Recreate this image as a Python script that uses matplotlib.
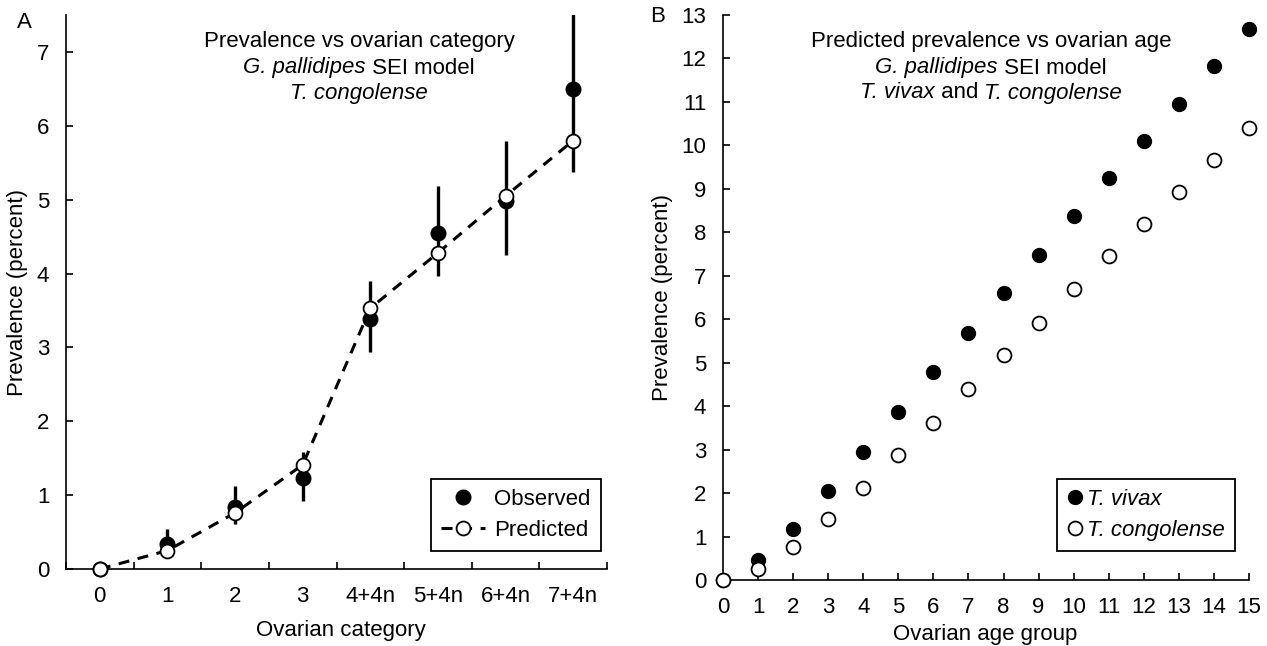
import matplotlib
matplotlib.use("Agg")
import matplotlib.pyplot as plt
from matplotlib.lines import Line2D
import numpy as np

plt.rcParams['font.family'] = ['Liberation Sans', 'DejaVu Sans']

## Panel A data
categories = ['0', '1', '2', '3', '4+4n', '5+4n', '6+4n', '7+4n']
observed = [0.0, 0.34, 0.84, 1.23, 3.39, 4.55, 4.98, 6.50]
obs_low = [0.0, 0.18, 0.61, 0.92, 2.94, 3.97, 4.25, 5.38]
obs_high = [0.0, 0.54, 1.12, 1.58, 3.90, 5.19, 5.80, 7.60]
predicted = [0.0, 0.25, 0.76, 1.41, 3.53, 4.28, 5.05, 5.80]

## Panel B data
age_group = list(range(16))
vivax = [0.0, 0.46, 1.17, 2.05, 2.94, 3.86, 4.78, 5.68, 6.60, 7.47, 8.37, 9.24, 10.10, 10.96, 11.82, 12.67]
congolense = [0.0, 0.25, 0.76, 1.40, 2.11, 2.87, 3.61, 4.39, 5.17, 5.91, 6.69, 7.45, 8.18, 8.92, 9.66, 10.40]

FS = 16
W, H = 1267, 646
fig = plt.figure(figsize=(W / 100, H / 100), dpi=100)
renderer = fig.canvas.get_renderer()

def ax_rect(x0, x1, ytop, ybot):
    return [x0 / W, 1 - ybot / H, (x1 - x0) / W, (ybot - ytop) / H]

def rich_line(xc, yc, pieces):
    # pieces: list of (text, style); drawn side by side, centred on xc (pixels)
    objs = [fig.text(0, 1 - yc / H, t, style=s, fontsize=FS, va='center', ha='left') for t, s in pieces]
    widths = [o.get_window_extent(renderer).width for o in objs]
    x0 = xc - sum(widths) / 2
    for o, w in zip(objs, widths):
        o.set_x(x0 / W)
        x0 += w

axA = fig.add_axes(ax_rect(66, 607, 15, 569))
axB = fig.add_axes(ax_rect(723, 1249, 15, 580))

for ax in (axA, axB):
    ax.spines['top'].set_visible(False)
    ax.spines['right'].set_visible(False)
    for s in ('left', 'bottom'):
        ax.spines[s].set_linewidth(1.2)
    ax.tick_params(which='both', direction='in', length=5, width=1.2, labelsize=FS)
    ax.tick_params(axis='y', pad=12)
    ax.tick_params(axis='x', pad=12)

# ---- Panel A
x = np.arange(len(categories))
yerr = [np.array(observed) - np.array(obs_low), np.array(obs_high) - np.array(observed)]
dash = (3.6, 2.8)
axA.errorbar(x, observed, yerr=yerr, fmt='none', ecolor='black', elinewidth=2.4, capsize=0)
axA.plot(x, predicted, color='black', lw=2.2, dashes=dash, zorder=3)
axA.plot(x, observed, 'o', color='black', ms=10.5, zorder=4, clip_on=False)
axA.plot(x, predicted, 'o', mfc='white', mec='black', mew=1.3, ms=10, zorder=5, clip_on=False)

axA.set_xlim(-0.5, 7.5)
axA.set_ylim(0, 7.5)
axA.set_xticks(x)
axA.set_xticklabels(categories)
axA.tick_params(axis='x', which='major', length=0)
axA.set_xticks(np.arange(-0.5, 8, 1), minor=True)
axA.set_yticks(range(8))
axA.set_xlabel('Ovarian category', fontsize=FS)
axA.set_ylabel('Prevalence (percent)', fontsize=FS)
axA.xaxis.set_label_coords(0.509, -0.092)
axA.yaxis.set_label_coords(-0.07, 0.5)

hA = [Line2D([], [], marker='o', ls='none', color='black', ms=10.5),
      Line2D([], [], marker='o', color='black', lw=2.2, dashes=dash, mfc='white', mec='black', mew=1.3, ms=10)]
legA = axA.legend(hA, ['Observed', 'Predicted'], loc='lower right', bbox_to_anchor=(0.988, 0.0325),
                  borderaxespad=0, fontsize=FS, fancybox=False, edgecolor='black', framealpha=1,
                  handlelength=2.0, handletextpad=0.4, labelspacing=0.45, borderpad=0.45)
legA.get_frame().set_linewidth(1.3)

# ---- Panel B
axB.plot(age_group, vivax, 'o', color='black', ms=10, clip_on=False, zorder=3)
axB.plot(age_group, congolense, 'o', mfc='white', mec='black', mew=1.3, ms=10, clip_on=False, zorder=4)
axB.set_xlim(0, 15)
axB.set_ylim(0, 13)
axB.set_xticks(age_group)
axB.set_yticks(range(14))
axB.set_xlabel('Ovarian age group', fontsize=FS)
axB.set_ylabel('Prevalence (percent)', fontsize=FS)
axB.xaxis.set_label_coords(0.498, -0.077)
axB.yaxis.set_label_coords(-0.095, 0.5)

hB = [Line2D([], [], marker='o', ls='none', color='black', ms=10),
      Line2D([], [], marker='o', ls='none', mfc='white', mec='black', mew=1.3, ms=10)]
legB = axB.legend(hB, ['T. vivax', 'T. congolense'], loc='lower right', bbox_to_anchor=(0.973, 0.051),
                  borderaxespad=0, prop={'size': FS, 'style': 'italic'}, fancybox=False,
                  edgecolor='black', framealpha=1, handlelength=0.7, handletextpad=0.2,
                  labelspacing=0.45, borderpad=0.45)
legB.get_frame().set_linewidth(1.3)

# ---- titles and panel letters
titleA = [[('Prevalence vs ovarian category', 'normal')],
          [('G. pallidipes', 'italic'), (' SEI model', 'normal')],
          [('T. congolense', 'italic')]]
titleB = [[('Predicted prevalence vs ovarian age', 'normal')],
          [('G. pallidipes', 'italic'), (' SEI model', 'normal')],
          [('T. vivax', 'italic'), (' and ', 'normal'), ('T. congolense', 'italic')]]
for yy, tA, tB in zip([42, 68, 93], titleA, titleB):
    rich_line(359, yy, tA)
    rich_line(991, yy, tB)

fig.text(24 / W, 1 - 23 / H, 'A', ha='center', va='center', fontsize=FS)
fig.text(658 / W, 1 - 16 / H, 'B', ha='center', va='center', fontsize=FS)

fig.savefig('out.png', dpi=100)
